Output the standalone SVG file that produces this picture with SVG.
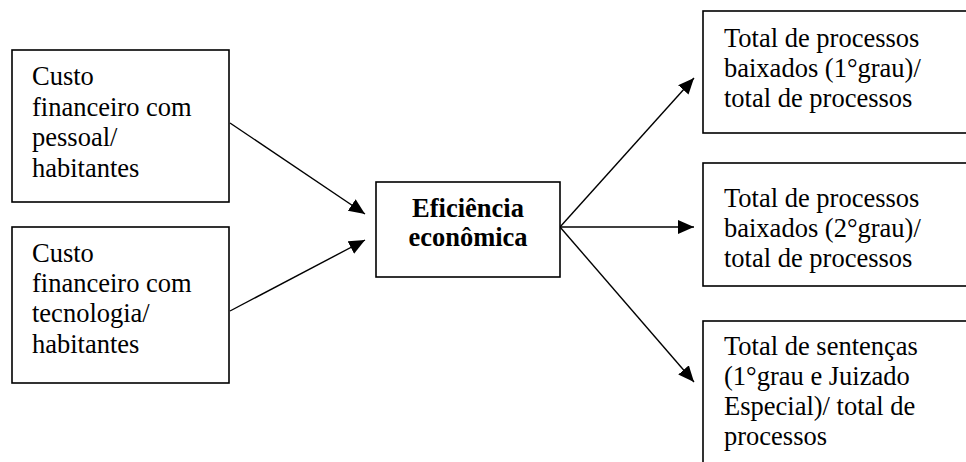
<svg xmlns="http://www.w3.org/2000/svg" width="966" height="462" viewBox="0 0 966 462">
<style>
.box{fill:#fff;stroke:#000;stroke-width:1.6}
text{font-family:'Liberation Serif','Times New Roman',Times,serif;font-size:26.5px;fill:#000}
.b{font-weight:bold;text-anchor:middle}
.c{stroke:#000;stroke-width:1.4;fill:none;marker-end:url(#ah)}
</style>
<defs>
<marker id="ah" markerUnits="userSpaceOnUse" markerWidth="18" markerHeight="16" refX="16" refY="7" orient="auto">
<path d="M0,0 L16,7 L0,14 Z" fill="#000"/>
</marker>
</defs>
<rect width="966" height="462" fill="#fff"/>
<g id="connectors">
<line class="c" x1="230" y1="123" x2="365" y2="214"/>
<line class="c" x1="230" y1="311" x2="365" y2="240"/>
<line class="c" x1="560" y1="227" x2="694" y2="78"/>
<line class="c" x1="560" y1="227" x2="694" y2="227"/>
<line class="c" x1="560" y1="227" x2="694" y2="382"/>
</g>
<g id="n1" font-family="Liberation Serif, serif">
<rect class="box" x="12" y="50" width="217" height="152"/>
<text x="32" y="85">Custo</text>
<text x="32" y="116">financeiro com</text>
<text x="32" y="146">pessoal/</text>
<text x="32" y="177">habitantes</text>
</g>
<g id="n2">
<rect class="box" x="12" y="227" width="217" height="156"/>
<text x="32" y="262">Custo</text>
<text x="32" y="292">financeiro com</text>
<text x="32" y="322">tecnologia/</text>
<text x="32" y="353">habitantes</text>
</g>
<g id="center">
<rect class="box" x="376" y="182" width="184" height="95"/>
<text class="b" x="468" y="217">Eficiência</text>
<text class="b" x="468" y="246">econômica</text>
</g>
<g id="r1">
<rect class="box" x="703" y="11" width="280" height="122"/>
<text x="724" y="47">Total de processos</text>
<text x="724" y="77">baixados (1°grau)/</text>
<text x="724" y="107">total de processos</text>
</g>
<g id="r2">
<rect class="box" x="703" y="163" width="280" height="123"/>
<text x="724" y="207">Total de processos</text>
<text x="724" y="237">baixados (2°grau)/</text>
<text x="724" y="267">total de processos</text>
</g>
<g id="r3">
<rect class="box" x="703" y="321" width="280" height="170"/>
<text x="724" y="355">Total de sentenças</text>
<text x="724" y="385">(1°grau e Juizado</text>
<text x="724" y="415">Especial)/ total de</text>
<text x="724" y="445">processos</text>
</g>
</svg>
